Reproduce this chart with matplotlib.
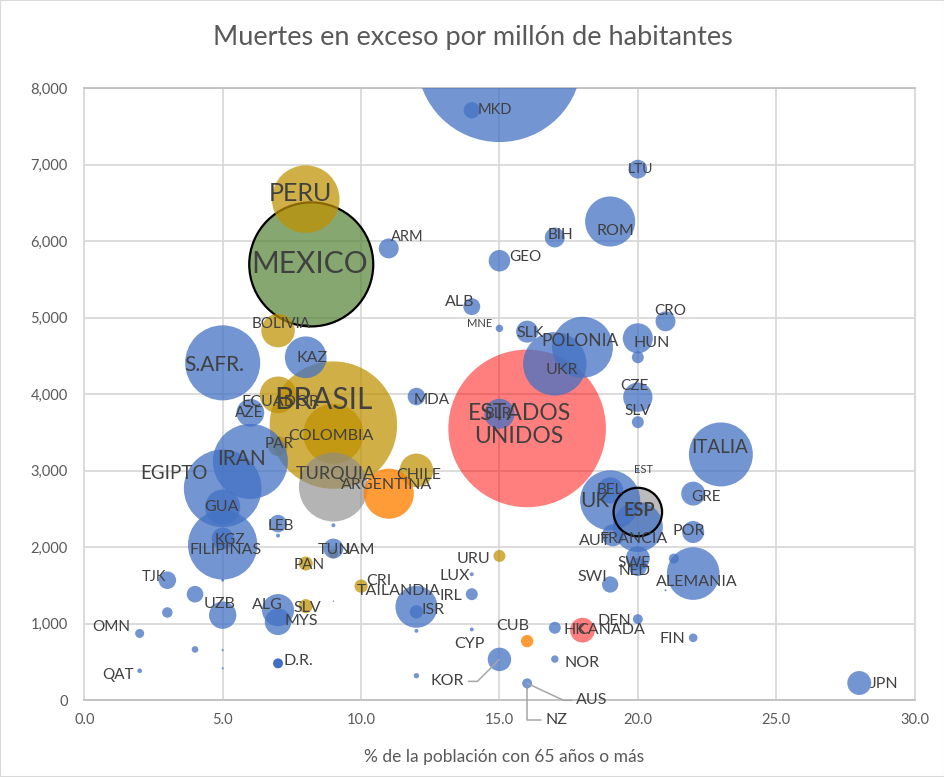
import matplotlib
matplotlib.use("Agg")
import matplotlib.pyplot as plt
from matplotlib.patches import Rectangle
import numpy as np

plt.rcParams['font.family'] = ['Lato', 'DejaVu Sans']

# ---------------- data ----------------
paises = ['', 'MKD', 'LTU', 'ROM', 'BIH', 'GEO', 'ARM', 'PERU', 'MEXICO', 'BOLIVIA',
          'S.AFR.', 'KAZ', 'BRASIL', 'ECUADOR', 'AZE', 'COLOMBIA', 'PAR', 'IRAN', 'EGIPTO', 'GUA',
          'FILIPINAS', 'KGZ', 'LEB', '', '', 'TUN', 'JAM', 'PAN', 'TJK', '',
          '', 'UZB', 'OMN', '', '', '', '', 'QAT', 'ALG', 'MYS',
          'SLV', 'D.R.', '', 'CRI', 'TAILANDIA', 'ISR', '', '', 'KOR', 'CYP',
          'LUX', 'IRL', 'URU', 'CUB', 'HK', 'CANADA', 'NOR', 'AUS', 'NZ', 'DEN',
          'FIN', 'SWI', 'SWE', 'NED', 'FRANCIA', 'AUT', 'ESP', 'UK', 'BEL', 'EST',
          'SLV', 'CZE', 'ITALIA', 'GRE', 'POR', 'ALEMANIA', '', '', 'ESTADOS\nUNIDOS', 'BLR',
          'MDA', 'UKR', 'POLONIA', 'SLK', 'MNE', 'ALB', 'HUN', '', 'CRO', 'CHILE',
          'ARGENTINA', 'TURQUIA', 'JPN']

pct65 = [15.0, 14.0, 20.0, 19.0, 17.0, 15.0, 11.0, 8.0, 8.2, 7.0,
         5.0, 8.0, 9.0, 7.0, 6.0, 9.0, 7.0, 6.0, 5.0, 5.0,
         5.0, 5.0, 7.0, 7.0, 9.0, 9.0, 9.0, 8.0, 3.0, 4.0,
         3.0, 5.0, 2.0, 4.0, 5.0, 5.0, 5.0, 2.0, 7.0, 7.0,
         8.0, 7.0, 9.0, 10.0, 12.0, 12.0, 12.0, 12.0, 15.0, 14.0,
         14.0, 14.0, 15.0, 16.0, 17.0, 18.0, 17.0, 16.0, 16.0, 20.0,
         22.0, 19.0, 20.0, 20.0, 20.0, 19.1, 20.0, 19.0, 19.0, 20.0,
         20.0, 20.0, 23.0, 22.0, 22.0, 22.0, 21.3, 21.0, 16.0, 15.0,
         12.0, 17.0, 18.0, 16.0, 15.0, 14.0, 20.0, 20.0, 21.0, 12.0,
         11.0, 9.0, 28.0]

muertes = [8370, 7709, 6939, 6255, 6046, 5742, 5903, 6547, 5694, 4829,
           4407, 4480, 3593, 3989, 3754, 3480, 3319, 3119, 2767, 2522,
           2028, 2110, 2306, 2149, 2284, 1980, 1914, 1784, 1566, 1383,
           1144, 1109, 870, 661, 652, 413, 1566, 382, 1175, 1022,
           1227, 479, 1292, 1488, 1218, 1152, 904, 317, 531, 922,
           1644, 1383, 1883, 770, 944, 913, 535, 218, 153, 1057,
           813, 1510, 1853, 1740, 2262, 2153, 2457, 2610, 2740, 3002,
           3632, 3958, 3210, 2698, 2196, 1653, 1849, 1435, 3550, 3741,
           3967, 4394, 4611, 4815, 4858, 5142, 4728, 4480, 4950, 3002,
           2697, 2784, 222]

# bubble size (total excess deaths, thousands, estimated)
tamano = [1234, 12, 16, 114, 18, 21, 18, 208, 699, 51,
          256, 79, 738, 61, 35, 164, 18, 256, 274, 56,
          219, 22, 14, 0.7, 0.7, 18, 4.5, 9, 14, 12.5,
          5, 34, 3.7, 2, 0.2, 0.2, 0.4, 1, 47, 32,
          9, 4.5, 0.1, 8, 80, 8, 0.7, 1.3, 25, 0.7,
          0.7, 6.5, 6.5, 7, 6.5, 28, 2.5, 4.5, 0.2, 4.5,
          3.4, 12, 26, 15, 114, 22, 107, 164, 31, 0.4,
          6.5, 39, 186, 26, 22, 126, 4.5, 0.2, 1129, 41,
          14, 183, 169, 22, 2.5, 13, 41, 6.5, 18, 51,
          114, 216, 26]

grupo = ['blue', 'blue', 'blue', 'blue', 'blue', 'blue', 'blue', 'gold', 'green', 'gold',
         'blue', 'blue', 'gold', 'gold', 'blue', 'gold', 'gold', 'blue', 'blue', 'blue',
         'blue', 'blue', 'blue', 'blue', 'blue', 'blue', 'gold', 'gold', 'blue', 'blue',
         'blue', 'blue', 'blue', 'blue', 'blue', 'blue', 'blue', 'blue', 'blue', 'blue',
         'gold', 'dark', 'blue', 'gold', 'blue', 'blue', 'blue', 'blue', 'blue', 'blue',
         'blue', 'blue', 'gold', 'orange', 'blue', 'red', 'blue', 'blue', 'blue', 'blue',
         'blue', 'blue', 'blue', 'blue', 'blue', 'blue', 'esp', 'blue', 'blue', 'blue',
         'blue', 'blue', 'blue', 'blue', 'blue', 'blue', 'blue', 'blue', 'red', 'blue',
         'blue', 'blue', 'blue', 'blue', 'blue', 'blue', 'blue', 'blue', 'blue', 'gold',
         'orange', 'gray', 'blue']

x_ticks = [0, 5, 10, 15, 20, 25, 30]
y_ticks = [0, 1000, 2000, 3000, 4000, 5000, 6000, 7000, 8000]
titulo = 'Muertes en exceso por millón de habitantes'
eje_x = '% de la población con 65 años o más'

# ---------------- layout (label offsets in px: dx right, dy down; font size) ----------------
label_layout = [
    None, (23, 0, 10.5), (3, 0, 10), (5, 10, 11.5), (6, -2, 11), (26, -4, 11), (19, -11, 10.5), (-5, -6, 18), (-2, 0, 21.5), (3, -7, 11),
    (-8, 2, 15), (6, 1, 11.5), (-9.5, -25.5, 21.5), (2, 7, 11.5), (-1, 0, 11), (-2.5, 2, 11.5), (1, -2, 11), (-9, -2, 15), (-49, -14.5, 13.5), (-1, 0, 11.5),
    (3, 5, 11.5), (7, 1, 11), (3, 2, 11), None, None, (1, 1, 11.5), (26, -4, 11.5), (3, 1, 11), (-13, -3, 10.5), None,
    None, (-3, -11.5, 11.5), (-28, -6.5, 11), None, None, None, None, (-22, 4, 11), (-11, -5, 11.5), (23, -1, 11.5),
    (2, 1.5, 11.5), (20, -2.5, 11.5), None, (18, -5, 11.5), (-17.5, -15.5, 11.5), (17, -2, 11.5), None, None, (-52, 22, 11.5), (-2, 15, 11.5),
    (-17, 2, 11.5), (-20.5, 2, 11.5), (-26, 3.5, 11.5), (-14, -15, 11.5), (20, 2, 11.5), (29, 0, 11.5), (27, 3.5, 11.5), (65, 17, 11.5), (29, 31.5, 11.5), (-23, 2, 11.5),
    (-21, 1, 11.5), (-17.5, -7, 11.5), (-4, 5, 11), (-3.5, 4.5, 11), (-4, 12.5, 11.5), (-18, 6, 11.5), (1, -1.5, 13), (-15, 1, 15), (0, 0, 11), (6, -1, 8),
    (0, -11, 11), (-3, -11, 11), (-1.5, -7, 13.5), (12.5, 3, 11), (-4, -1, 11.5), (4, 8, 11.5), None, None, (-8, -3.5, 16.5), (-1.5, 0, 11),
    (15, 3, 11), (7, 6, 11.5), (-2, -6.5, 12.5), (3, 1.5, 11.5), (-20, -5, 8), (-12, -4.5, 11.5), (14, 5, 11.5), None, (4.5, -10, 11), (2, 4.5, 11.5),
    (-2.5, -9, 11.5), (2, -13.5, 13), (25, 1, 11.5),
]
leaders = {48: ('angle,angleA=0,angleB=45,rad=0', (1, 0.5)),
           57: ('angle,angleA=0,angleB=-25,rad=0', (0, 0.5)),
           58: ('angle,angleA=0,angleB=90,rad=0', (0, 0.5))}

styles = {
    'green':  dict(fc='#548235', alpha=0.7, ec='black', lw=1.6, z=2),
    'red':    dict(fc='#FF0000', alpha=0.5, ec='none', lw=0, z=3),
    'gold':   dict(fc='#BF9000', alpha=0.72, ec='none', lw=0, z=4),
    'gray':   dict(fc='#8C8C8C', alpha=0.65, ec='none', lw=0, z=5),
    'orange': dict(fc='#FF8000', alpha=0.78, ec='none', lw=0, z=6),
    'esp':    dict(fc='#A5A5A5', alpha=0.75, ec='black', lw=1.6, z=6.5),
    'blue':   dict(fc='#4472C4', alpha=0.75, ec='none', lw=0, z=7),
    'dark':   dict(fc='#3A66C0', alpha=0.95, ec='none', lw=0, z=7.5),
}

W, H, DPI = 945, 777, 100
fig = plt.figure(figsize=(W / DPI, H / DPI), dpi=DPI)
L, R, T, B = 84.3, 914.6, 88.0, 700.0
ax = fig.add_axes([L / W, (H - B) / H, (R - L) / W, (B - T) / H])

# bubble scale: radius_px = sqrt(5.5 * size)  ->  s (pt^2) = (2 * r * 72/DPI)^2
k = 5.5 * (2 * 72 / DPI) ** 2

xs = np.array(pct65)
ys = np.array(muertes)
ss = np.array(tamano) * k
for g, st in styles.items():
    idx = [i for i in range(len(paises)) if grupo[i] == g]
    idx.sort(key=lambda i: -tamano[i])
    if not idx:
        continue
    ax.scatter(xs[idx], ys[idx], s=ss[idx], c=st['fc'], alpha=st['alpha'],
               edgecolors='none', linewidths=0, zorder=st['z'])
    if st['ec'] != 'none':
        ez = st['z'] + 0.1 if g == 'green' else 9
        ax.scatter(xs[idx], ys[idx], s=ss[idx], facecolors='none',
                   edgecolors=st['ec'], linewidths=st['lw'], zorder=ez)

for i, lab in enumerate(paises):
    lay = label_layout[i]
    if not lab or lay is None:
        continue
    dx, dy, fs = lay
    kw = dict(xy=(pct65[i], muertes[i]), xytext=(dx, -dy), textcoords='offset pixels',
              ha='center', va='center', fontsize=fs, color='#404040',
              annotation_clip=False, zorder=20, linespacing=1.15,
              fontweight='bold' if lab == 'ESP' else 'normal')
    if i in leaders:
        cs, rp = leaders[i]
        kw['arrowprops'] = dict(arrowstyle='-', color='#A6A6A6', lw=1.1,
                                connectionstyle=cs, relpos=rp, shrinkA=1, shrinkB=0)
    ax.annotate(lab, **kw)

ax.set_xlim(0, 30)
ax.set_ylim(0, 8000)
ax.set_xticks(x_ticks)
ax.set_xticklabels([f'{v:.1f}' for v in x_ticks])
ax.set_yticks(y_ticks)
ax.set_yticklabels([f'{v:,.0f}' for v in y_ticks])
ax.grid(True, color='#D9D9D9', lw=1.3)
ax.set_axisbelow(True)
for sp in ['left', 'right']:
    ax.spines[sp].set_color('#D9D9D9')
    ax.spines[sp].set_linewidth(1.3)
for sp in ['top', 'bottom']:
    ax.spines[sp].set_color('#BFBFBF')
    ax.spines[sp].set_linewidth(1.3)
ax.tick_params(length=0, labelsize=10.5, labelcolor='#595959')
ax.tick_params(axis='y', pad=12)
ax.tick_params(axis='x', pad=9)

fig.text(0.5, 1 - 37 / H, titulo, ha='center', va='center', fontsize=19.5,
         color='#595959', fontweight='normal')
fig.text(504 / W, 1 - 757 / H, eje_x, ha='center', va='center', fontsize=12.5,
         color='#595959')

fig.patches.append(Rectangle((0, 0), 1, 1, transform=fig.transFigure, fill=False,
                             edgecolor='#D9D9D9', lw=1.5))

fig.savefig('out.png', dpi=DPI)
